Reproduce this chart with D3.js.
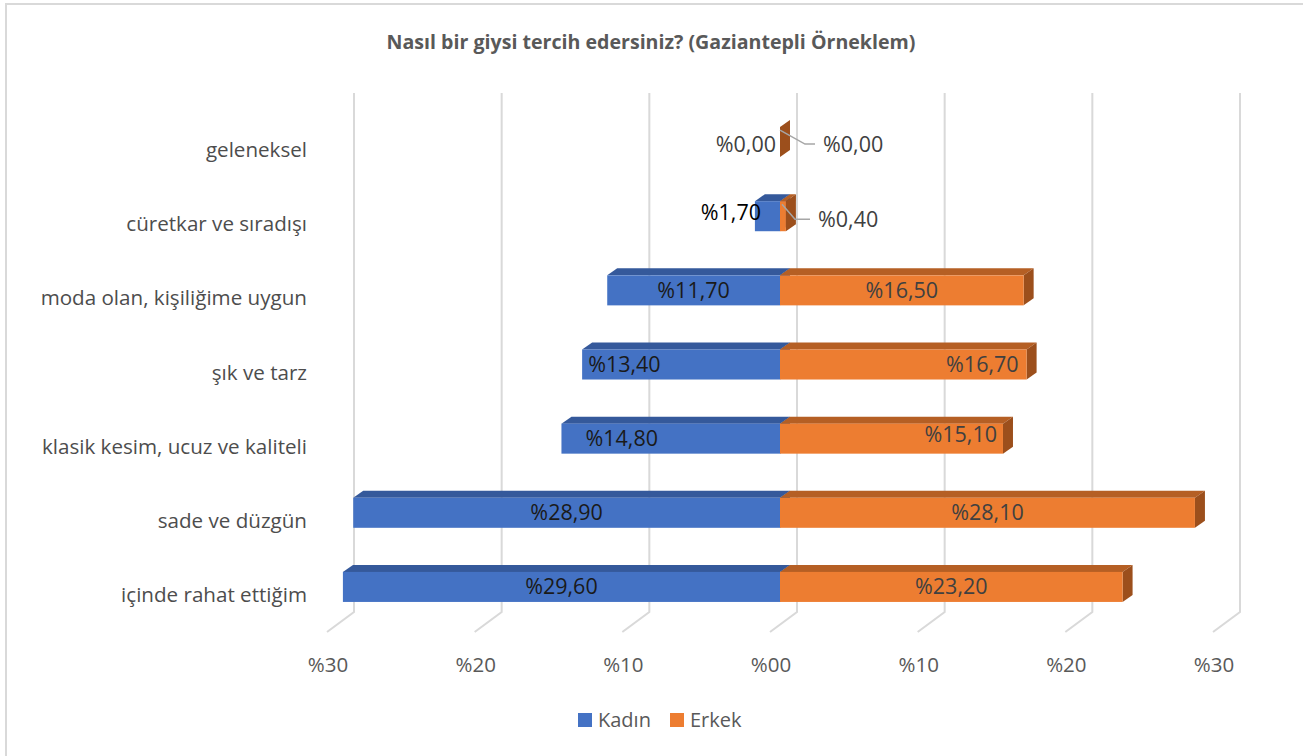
<!DOCTYPE html>
<html><head><meta charset="utf-8">
<script src="https://cdn.jsdelivr.net/npm/d3@7"></script>
<style>html,body{margin:0;padding:0;background:#fff;}svg{display:block;font-family:"Open Sans",sans-serif;}</style>
</head><body>
<script>
const categories = ["geleneksel","cüretkar ve sıradışı","moda olan, kişiliğime uygun","şık ve tarz","klasik kesim, ucuz ve kaliteli","sade ve düzgün","içinde rahat ettiğim"];
const kadin = [0.0, 1.7, 11.7, 13.4, 14.8, 28.9, 29.6];
const erkek = [0.0, 0.4, 16.5, 16.7, 15.1, 28.1, 23.2];
const tickValues = [-30,-20,-10,0,10,20,30];
const tickLabels = ["%30","%20","%10","%00","%10","%20","%30"];
const seriesNames = ["Kadın","Erkek"];
const title = "Nasıl bir giysi tercih edersiniz? (Gaziantepli Örneklem)";
// label placement: c = centre, e = inside end, o = outside (leader)
const kadinLabelMode = ["oL","oL","c","e","e","c","c"];
const erkekLabelMode = ["leader","leader","c","e","e","c","c"];

const W=1303,H=756;
const svg=d3.select("body").append("svg").attr("width",W).attr("height",H);
svg.append("rect").attr("x",6).attr("y",4).attr("width",1320).attr("height",780).attr("fill","#fff").attr("stroke","#d9d9d9").attr("stroke-width",2);

const x=d3.scaleLinear().domain([-30,30]).range([354,1240]);
const y=d3.scalePoint().domain(categories).range([93,612]).padding(0.5);
const step=y.step();
const floorDX=-27,floorDY=20;
const frontDX=-17,frontDY=12;
const depthX=10,depthY=-7;
const barH=step*0.405;

svg.append("text").attr("x",651).attr("y",49).attr("text-anchor","middle").attr("font-weight","bold").attr("font-size",19.6).attr("fill","#595959").text(title);

// gridlines
const grid=svg.append("g");
tickValues.forEach(v=>{
  const bx=x(v);
  grid.append("path").attr("d",`M${bx},93 L${bx},612 L${bx+floorDX},${612+floorDY}`).attr("fill","none").attr("stroke","#d9d9d9").attr("stroke-width",2);
});
tickValues.forEach((v,i)=>{
  svg.append("text").attr("x",x(v)+floorDX+1).attr("y",672).attr("text-anchor","middle").attr("font-size",20.5).attr("fill","#595959").text(tickLabels[i]);
});
// category labels
categories.forEach(c=>{
  svg.append("text").attr("x",307).attr("y",y(c)+floorDY+7).attr("text-anchor","end").attr("font-size",20.6).attr("fill","#4d4d4d").text(c);
});

const colors={k:{front:"#4472C4",top:"#35599b",side:"#2f4f8a"},e:{front:"#ED7D31",top:"#b55f24",side:"#9c4f1c"}};
function bar(g,x0,x1,yc,col){
  const l=Math.min(x0,x1),r=Math.max(x0,x1);
  const t=yc-barH/2,b=yc+barH/2;
  g.append("path").attr("d",`M${l},${t} L${l+depthX},${t+depthY} L${r+depthX},${t+depthY} L${r},${t} Z`).attr("fill",col.top);
  g.append("path").attr("d",`M${r},${t} L${r+depthX},${t+depthY} L${r+depthX},${b+depthY} L${r},${b} Z`).attr("fill",col.side);
  if(r-l>0) g.append("rect").attr("x",l).attr("y",t).attr("width",r-l).attr("height",barH).attr("fill",col.front);
}
const bars=svg.append("g");
const fmt=v=>"%"+v.toFixed(2).replace(".",",");
categories.forEach((c,i)=>{
  const yc=y(c)+frontDY;
  const x0=x(0)+frontDX;
  const xk=x(-kadin[i])+frontDX, xe=x(erkek[i])+frontDX;
  if(kadin[i]>0) bar(bars,xk,x0,yc,colors.k);
  bar(bars,x0,xe,yc,colors.e);
});
const lab=svg.append("g").attr("font-size",21.5);
categories.forEach((c,i)=>{
  const yc=y(c)+frontDY;
  const x0=x(0)+frontDX;
  const xk=x(-kadin[i])+frontDX, xe=x(erkek[i])+frontDX;
  const mk=kadinLabelMode[i], me=erkekLabelMode[i];
  // Kadın
  let t=lab.append("text").attr("dy","0.35em").attr("fill","#1a1a1a").text(fmt(kadin[i]));
  if(mk==="c") t.attr("x",(xk+x0)/2).attr("y",yc).attr("text-anchor","middle");
  else if(mk==="e") t.attr("x",xk+(i===4?24:6)).attr("y",yc).attr("text-anchor","start");
  else t.attr("x",x0-(kadin[i]>0?19:4)).attr("y",yc+(kadin[i]>0?-4:2)).attr("text-anchor","end").attr("fill",kadin[i]>0?"#000":"#404040");
  // Erkek
  let u=lab.append("text").attr("dy","0.35em").attr("fill","#404040").text(fmt(erkek[i]));
  if(me==="c") u.attr("x",(x0+xe)/2).attr("y",yc).attr("text-anchor","middle");
  else if(me==="e") u.attr("x",xe-(i===4?6:8)).attr("y",yc-(i===4?4:0)).attr("text-anchor","end");
  else {
    const pos=erkek[i]>0;
    const sx=x0+(pos?2:0), sy=yc-12;
    const ex=x0+(pos?15:25), ey=yc+(pos?3:2);
    const lx=ex+(pos?15:10);
    lab.append("path").attr("d",`M${sx},${sy} L${ex},${ey} L${lx},${ey}`).attr("fill","none").attr("stroke","#a6a6a6").attr("stroke-width",1.5);
    u.attr("x",lx+8).attr("y",ey).attr("text-anchor","start");
  }
});
// legend
const lg=svg.append("g");
[[578,colors.k.front],[670,colors.e.front]].forEach((d,i)=>{
  lg.append("rect").attr("x",d[0]).attr("y",713).attr("width",14).attr("height",14).attr("fill",d[1]);
  lg.append("text").attr("x",d[0]+20).attr("y",727).attr("font-size",20).attr("fill","#595959").text(seriesNames[i]);
});
</script>
</body></html>
